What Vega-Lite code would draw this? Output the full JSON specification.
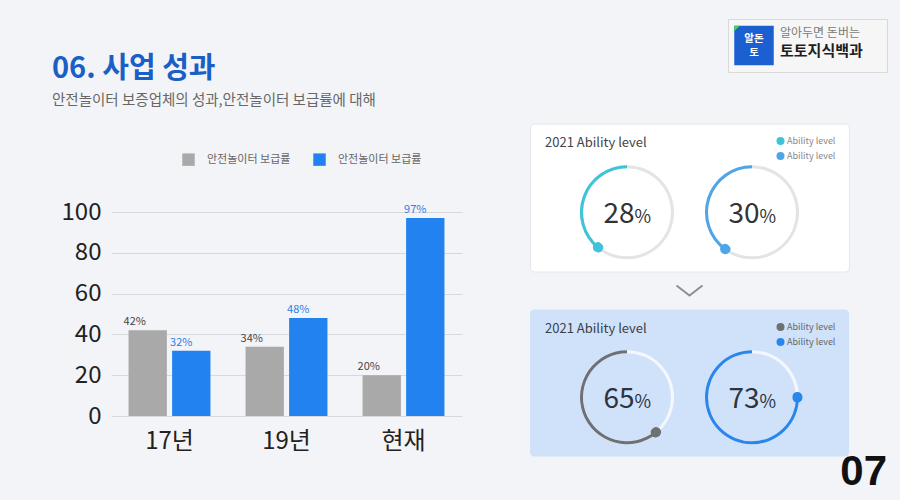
{
  "$schema": "https://vega.github.io/schema/vega-lite/v6.json",
  "background": "#f3f4f7",
  "padding": {"left": 52, "top": 18, "right": 13, "bottom": 9},
  "config": {
    "font": "Noto Sans CJK KR",
    "view": {"stroke": null}
  },
  "spacing": 67,
  "resolve": {"scale": {"color": "independent", "theta": "independent"}},
  "hconcat": [
    {
      "spacing": 44,
      "resolve": {"scale": {"color": "independent"}},
      "vconcat": [
        {
          "width": 351,
          "height": 90,
          "title": {
            "text": "06. 사업 성과",
            "subtitle": "안전놀이터 보증업체의 성과,안전놀이터 보급률에 대해",
            "anchor": "start",
            "frame": "group",
            "dx": -59,
            "offset": -88,
            "fontSize": 29,
            "fontWeight": "bold",
            "color": "#1a5fc6",
            "subtitleFontSize": 14.5,
            "subtitleColor": "#666666",
            "subtitlePadding": 10
          },
          "data": {"values": [{}]},
          "mark": {"type": "point", "opacity": 0},
          "encoding": {}
        },
        {
          "width": 351,
          "height": 204,
          "data": {
            "values": [
              {"year": "17년", "series": "s1", "value": 42},
              {"year": "17년", "series": "s2", "value": 32},
              {"year": "19년", "series": "s1", "value": 34},
              {"year": "19년", "series": "s2", "value": 48},
              {"year": "현재", "series": "s1", "value": 20},
              {"year": "현재", "series": "s2", "value": 97}
            ]
          },
          "transform": [{"calculate": "datum.value + '%'", "as": "label"}],
          "encoding": {
            "x": {
              "field": "year", "type": "nominal", "sort": null,
              "scale": {"paddingInner": 0.3, "paddingOuter": 0.15},
              "axis": {"title": null, "labelAngle": 0, "labelFontSize": 24, "labelColor": "#222222", "domain": false, "ticks": false, "labelPadding": 13}
            },
            "xOffset": {"field": "series", "type": "nominal", "scale": {"paddingInner": 0.12}},
            "y": {
              "field": "value", "type": "quantitative",
              "scale": {"domain": [0, 100]},
              "axis": {"title": null, "values": [0, 20, 40, 60, 80, 100], "labelFontSize": 24, "labelColor": "#222222", "domain": false, "ticks": false, "labelPadding": 10, "gridColor": "#d7d8dc"}
            }
          },
          "layer": [
            {
              "mark": {"type": "bar"},
              "encoding": {
                "color": {
                  "field": "series", "type": "nominal",
                  "scale": {"domain": ["s1", "s2"], "range": ["#a9a9a9", "#2283f0"]},
                  "legend": {"orient": "none", "legendX": 71, "legendY": -59, "direction": "horizontal", "title": null, "labelExpr": "'안전놀이터 보급률'", "symbolType": "square", "symbolSize": 155, "labelFontSize": 11, "labelColor": "#666666", "columnPadding": 22, "labelOffset": 12, "symbolStrokeWidth": 0}
                }
              }
            },
            {
              "transform": [{"filter": "datum.series === 's1'"}],
              "mark": {"type": "text", "baseline": "bottom", "dy": -3, "dx": -13, "fontSize": 11, "color": "#444444"},
              "encoding": {"text": {"field": "label"}}
            },
            {
              "transform": [{"filter": "datum.series === 's2'"}],
              "mark": {"type": "text", "baseline": "bottom", "dy": -3, "dx": -10, "fontSize": 11, "color": "#2b7fe6"},
              "encoding": {"text": {"field": "label"}}
            }
          ]
        }
      ]
    },
    {
      "spacing": 49.5,
      "resolve": {"scale": {"color": "independent", "theta": "independent"}},
      "vconcat": [
        {
          "spacing": 0,
          "hconcat": [
            {
              "width": 197, "height": 53,
              "data": {"values": [{}]},
              "mark": {"type": "point", "opacity": 0},
              "encoding": {}
            },
            {
              "width": 159, "height": 53,
              "view": {"fill": "#f6f6f6", "stroke": "#d9d9d9"},
              "encoding": {
                "x": {"field": "part", "type": "nominal", "scale": {"type": "point", "domain": ["icon", "name"], "range": [26, 52], "padding": 0}, "axis": null}
              },
              "layer": [
                {
                  "data": {"values": [{"part": "icon"}]},
                  "mark": {"type": "point", "shape": "square", "size": 1560, "filled": true, "color": "#1b5fd0", "opacity": 1}
                },
                {
                  "data": {"values": [{"part": "icon"}]},
                  "mark": {"type": "point", "shape": "M-1,-1L-0.72,-1L-1,-0.72Z", "size": 1560, "filled": true, "color": "#46d35b", "opacity": 1}
                },
                {
                  "data": {"values": [{"part": "icon", "row": "a", "t": "알돈"}, {"part": "icon", "row": "b", "t": "토"}]},
                  "mark": {"type": "text", "color": "#ffffff", "fontWeight": "bold", "fontSize": 10.5, "baseline": "middle"},
                  "encoding": {
                    "text": {"field": "t"},
                    "y": {"field": "row", "type": "nominal", "scale": {"type": "point", "domain": ["a", "b"], "range": [20, 34], "padding": 0}, "axis": null}
                  }
                },
                {
                  "data": {"values": [{"part": "name", "row": "a", "t": "알아두면 돈버는"}]},
                  "mark": {"type": "text", "color": "#7a7a7a", "fontSize": 12, "align": "left", "baseline": "middle"},
                  "encoding": {
                    "text": {"field": "t"},
                    "y": {"field": "row", "type": "nominal", "scale": {"type": "point", "domain": ["a", "b"], "range": [14, 32], "padding": 0}, "axis": null}
                  }
                },
                {
                  "data": {"values": [{"part": "name", "row": "b", "t": "토토지식백과"}]},
                  "mark": {"type": "text", "color": "#1e1e1e", "fontSize": 15, "fontWeight": "bold", "align": "left", "baseline": "middle"},
                  "encoding": {
                    "text": {"field": "t"},
                    "y": {"field": "row", "type": "nominal", "scale": {"type": "point", "domain": ["a", "b"], "range": [14, 32], "padding": 0}, "axis": null}
                  }
                }
              ],
              "resolve": {"scale": {"y": "independent"}}
            }
          ]
        },
        {
          "spacing": 0,
          "bounds": "flush",
          "resolve": {"scale": {"color": "independent", "theta": "independent"}},
          "vconcat": [
            {
              "width": 319, "height": 148,
              "view": {"fill": "#ffffff", "stroke": "#e4e6ea", "cornerRadius": 4},
              "title": {"text": "2021 Ability level", "anchor": "start", "frame": "group", "offset": -26, "dx": 15, "fontSize": 13, "fontWeight": "normal", "color": "#444444"},
              "data": {"values": [{"chart": "c1a", "value": 28, "arc": 39}, {"chart": "c1b", "value": 30, "arc": 40}]},
              "encoding": {
                "x": {"field": "chart", "type": "nominal", "scale": {"type": "point", "padding": 0.776}, "axis": null},
                "y": {"datum": "ring", "type": "nominal", "scale": {"type": "point", "align": 0.6}, "axis": null}
              },
              "layer": [
                {
                  "mark": {"type": "arc", "radius": 47, "radius2": 44},
                  "encoding": {
                    "theta": {"datum": 0, "type": "quantitative", "scale": {"domain": [0, 100], "range": [6.2832, 0]}},
                    "theta2": {"datum": 100},
                    "color": {"value": "#e3e4e6"}
                  }
                },
                {
                  "mark": {"type": "arc", "radius": 47, "radius2": 44},
                  "encoding": {
                    "theta": {"field": "arc", "type": "quantitative", "scale": {"domain": [0, 100], "range": [6.2832, 0]}},
                    "theta2": {"datum": 0},
                    "color": {
                      "field": "chart", "type": "nominal",
                      "scale": {"domain": ["c1a", "c1b"], "range": ["#3ec3d8", "#4ea6e8"]},
                      "legend": {"orient": "top-right", "offset": 13, "title": null, "labelExpr": "'Ability level'", "symbolType": "circle", "symbolSize": 64, "labelFontSize": 9, "labelColor": "#888888", "labelOffset": 2, "rowPadding": 5, "padding": 0, "symbolStrokeWidth": 0}
                    }
                  }
                },
                {
                  "mark": {"type": "arc", "radius": 50.5, "radius2": 40.5, "cornerRadius": 5, "thetaOffset": -0.115, "theta2Offset": 0.115},
                  "encoding": {
                    "theta": {"field": "arc", "type": "quantitative", "scale": {"domain": [0, 100], "range": [6.2832, 0]}},
                    "theta2": {"field": "arc"},
                    "color": {"field": "chart", "type": "nominal"}
                  }
                },
                {
                  "mark": {"type": "text", "align": "right", "baseline": "alphabetic", "dx": 7.5, "dy": 11, "fontSize": 28, "color": "#333333"},
                  "encoding": {"text": {"field": "value", "type": "quantitative"}}
                },
                {
                  "mark": {"type": "text", "align": "left", "baseline": "alphabetic", "dx": 7.5, "dy": 11, "fontSize": 18, "color": "#333333", "text": "%"},
                  "encoding": {}
                }
              ]
            },
            {
              "width": 319, "height": 38,
              "data": {"values": [{}]},
              "mark": {"type": "point", "shape": "M-1,-0.38L0,0.38L1,-0.38", "size": 676, "filled": false, "stroke": "#8c8f94", "strokeWidth": 2, "opacity": 1},
              "encoding": {}
            },
            {
              "width": 319, "height": 147,
              "view": {"fill": "#cfe2fa", "cornerRadius": 4},
              "title": {"text": "2021 Ability level", "anchor": "start", "frame": "group", "offset": -26, "dx": 15, "fontSize": 13, "fontWeight": "normal", "color": "#3a3f48"},
              "data": {"values": [{"chart": "c2a", "value": 65, "arc": 61}, {"chart": "c2b", "value": 73, "arc": 75}]},
              "encoding": {
                "x": {"field": "chart", "type": "nominal", "scale": {"type": "point", "padding": 0.776}, "axis": null},
                "y": {"datum": "ring", "type": "nominal", "scale": {"type": "point", "align": 0.597}, "axis": null}
              },
              "layer": [
                {
                  "mark": {"type": "arc", "radius": 47, "radius2": 44},
                  "encoding": {
                    "theta": {"datum": 0, "type": "quantitative", "scale": {"domain": [0, 100], "range": [6.2832, 0]}},
                    "theta2": {"datum": 100},
                    "color": {"value": "#f4f8fe"}
                  }
                },
                {
                  "mark": {"type": "arc", "radius": 47, "radius2": 44},
                  "encoding": {
                    "theta": {"field": "arc", "type": "quantitative", "scale": {"domain": [0, 100], "range": [6.2832, 0]}},
                    "theta2": {"datum": 0},
                    "color": {
                      "field": "chart", "type": "nominal",
                      "scale": {"domain": ["c2a", "c2b"], "range": ["#6f7073", "#2a86ec"]},
                      "legend": {"orient": "top-right", "offset": 13, "title": null, "labelExpr": "'Ability level'", "symbolType": "circle", "symbolSize": 64, "labelFontSize": 9, "labelColor": "#666666", "labelOffset": 2, "rowPadding": 5, "padding": 0, "symbolStrokeWidth": 0}
                    }
                  }
                },
                {
                  "mark": {"type": "arc", "radius": 50.5, "radius2": 40.5, "cornerRadius": 5, "thetaOffset": -0.115, "theta2Offset": 0.115},
                  "encoding": {
                    "theta": {"field": "arc", "type": "quantitative", "scale": {"domain": [0, 100], "range": [6.2832, 0]}},
                    "theta2": {"field": "arc"},
                    "color": {"field": "chart", "type": "nominal"}
                  }
                },
                {
                  "mark": {"type": "text", "align": "right", "baseline": "alphabetic", "dx": 7.5, "dy": 11, "fontSize": 28, "color": "#2d3441"},
                  "encoding": {"text": {"field": "value", "type": "quantitative"}}
                },
                {
                  "mark": {"type": "text", "align": "left", "baseline": "alphabetic", "dx": 7.5, "dy": 11, "fontSize": 18, "color": "#2d3441", "text": "%"},
                  "encoding": {}
                }
              ]
            },
            {
              "width": 357, "height": 30,
              "data": {"values": [{"page": "07"}]},
              "mark": {"type": "text", "align": "right", "baseline": "middle", "font": "Liberation Sans", "fontWeight": "bold", "fontSize": 42, "color": "#111111"},
              "encoding": {
                "text": {"field": "page"},
                "x": {"field": "page", "type": "nominal", "scale": {"type": "point", "align": 1}, "axis": null}
              }
            }
          ]
        }
      ]
    }
  ]
}
